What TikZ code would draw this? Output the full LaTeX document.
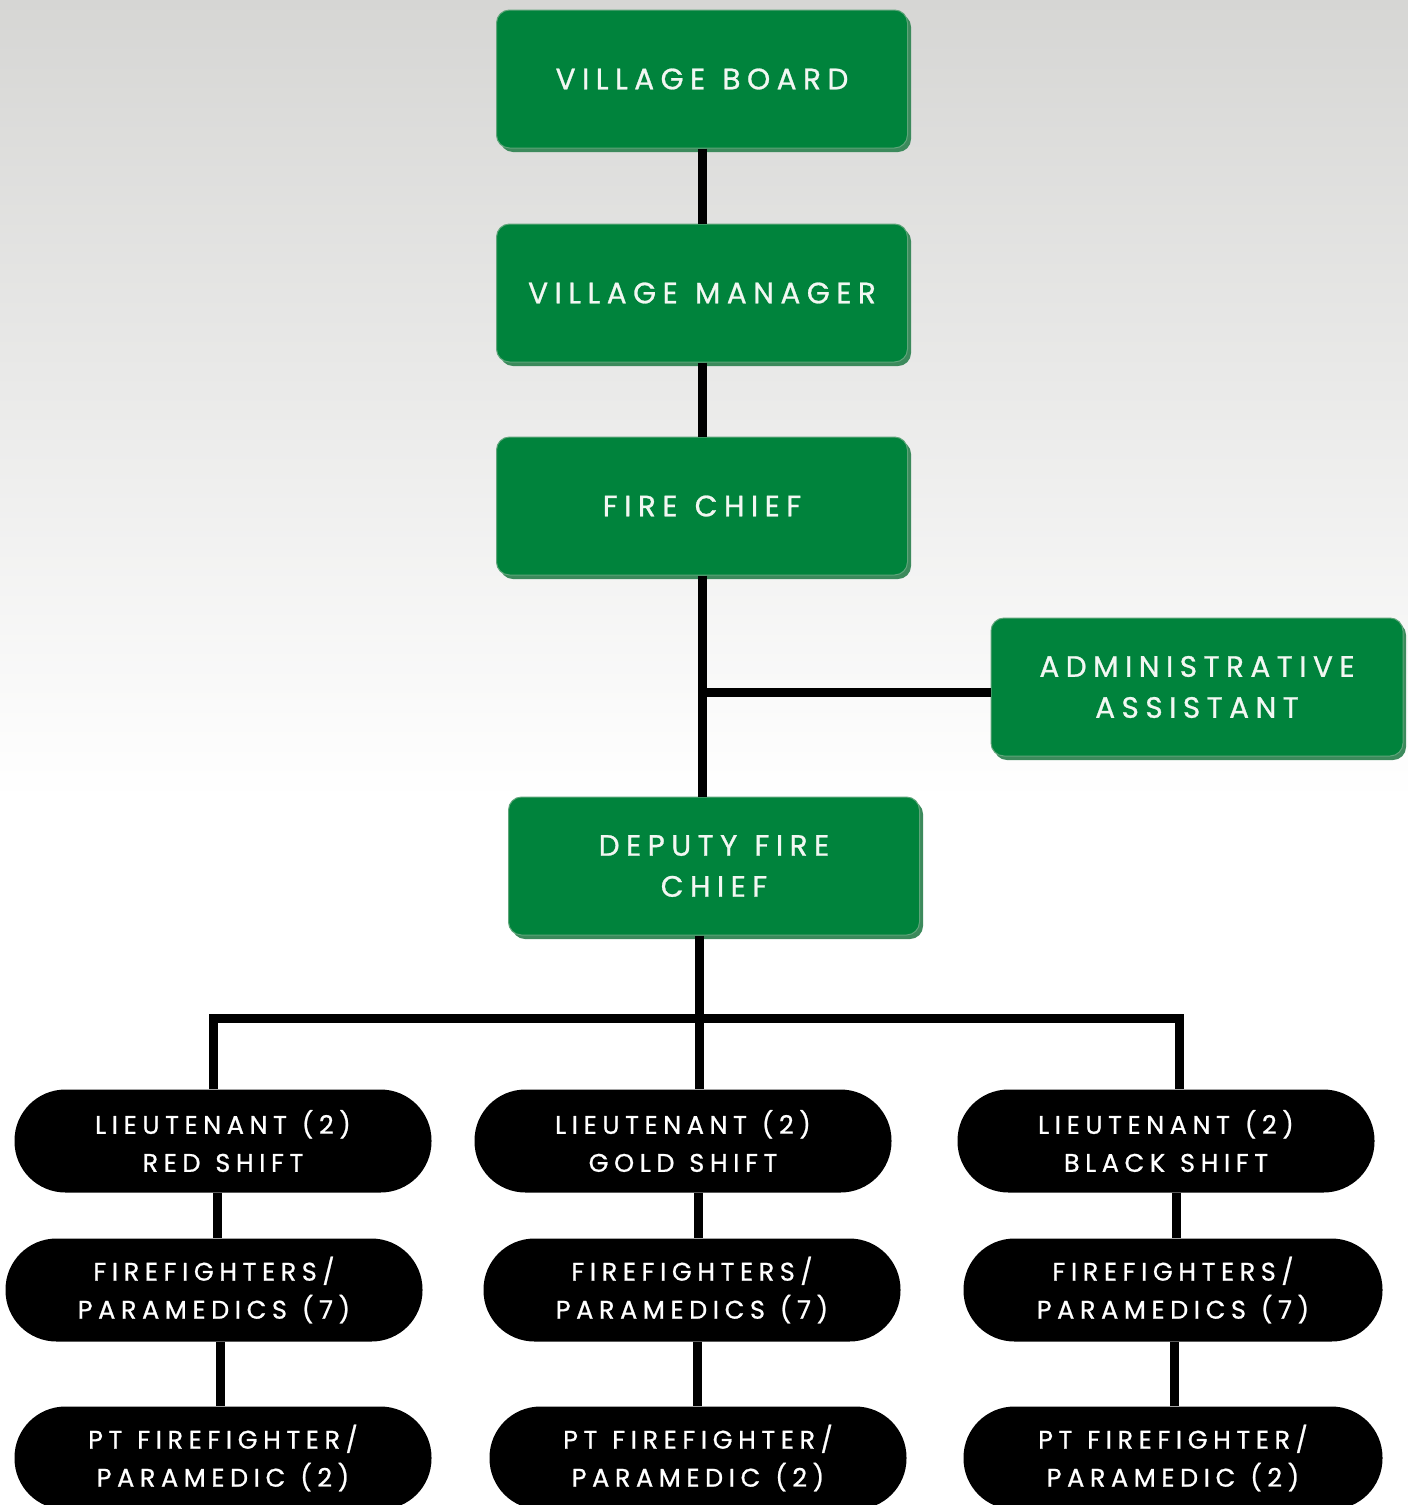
\documentclass[tikz,border=0pt]{standalone}
\usepackage{fontspec}
\setmainfont{Poppins}[LetterSpace=22, WordSpace=1.2, FakeBold=0.9]
\usetikzlibrary{calc}
\definecolor{boxgreen}{HTML}{00833C}
\definecolor{shadegreen}{HTML}{3C8A5C}
\definecolor{edgegreen}{HTML}{5FA57A}
\definecolor{bgtop}{HTML}{D6D6D4}
\definecolor{txtw}{HTML}{F2F7F2}
\begin{document}
\begin{tikzpicture}[x=1pt,y=-1pt,
  gbox/.style={rectangle, rounded corners=13pt, fill=boxgreen, draw=edgegreen, line width=1pt,
    minimum width=411pt, minimum height=138pt, text=txtw, align=center,
    font=\fontsize{29.5}{41}\selectfont, inner sep=0pt},
  pill/.style={rectangle, rounded corners=51pt, fill=black, minimum width=417pt,
    minimum height=103pt, text=white, align=center, font=\fontsize{25.5}{38}\selectfont, inner sep=0pt},
  conn/.style={draw=black, line width=9pt}]
\useasboundingbox (0,0) rectangle (1408,1505);
\clip (0,0) rectangle (1408,1505);
\shade[top color=bgtop, bottom color=white] (0,0) rectangle (1408,800);
\fill[white] (0,799) rectangle (1408,1505);

% shadows of green boxes
\fill[shadegreen, rounded corners=13pt] (500,14) rectangle (911,152);
\fill[shadegreen, rounded corners=13pt] (500,228) rectangle (911,366);
\fill[shadegreen, rounded corners=13pt] (500,441) rectangle (911,579);
\fill[shadegreen, rounded corners=13pt] (994,622) rectangle (1406,760);
\fill[shadegreen, rounded corners=13pt] (512,801) rectangle (923,939);

\node[gbox] (vb) at (702,79) {VILLAGE BOARD};
\node[gbox] (vm) at (702,293) {VILLAGE MANAGER};
\node[gbox] (fc) at (702,506) {FIRE CHIEF};
\node[gbox, minimum width=412pt] (aa) at (1197,687) {ADMINISTRATIVE\\ASSISTANT};
\node[gbox] (dfc) at (714,866) {DEPUTY FIRE\\CHIEF};

\node[pill] (l1) at (223,1141) {LIEUTENANT (2)\\RED SHIFT};
\node[pill] (l2) at (683,1141) {LIEUTENANT (2)\\GOLD SHIFT};
\node[pill] (l3) at (1166,1141) {LIEUTENANT (2)\\BLACK SHIFT};
\node[pill] (f1) at (214,1290) {FIREFIGHTERS/\\PARAMEDICS (7)};
\node[pill] (f2) at (692,1290) {FIREFIGHTERS/\\PARAMEDICS (7)};
\node[pill, minimum width=419pt] (f3) at (1173,1290) {FIREFIGHTERS/\\PARAMEDICS (7)};
\node[pill] (p1) at (223,1458) {PT FIREFIGHTER/\\PARAMEDIC (2)};
\node[pill] (p2) at (698,1458) {PT FIREFIGHTER/\\PARAMEDIC (2)};
\node[pill, minimum width=419pt] (p3) at (1173,1458) {PT FIREFIGHTER/\\PARAMEDIC (2)};

\coordinate (busL) at (213,1018);
\coordinate (busM) at (699,1018);
\coordinate (busR) at (1179,1018);

\draw[conn] (vb.south) -- (vm.north);
\draw[conn] (vm.south) -- (fc.north);
\draw[conn] (fc.south) -- (fc.south |- dfc.north);
\draw[conn] (fc.south |- 0,692) -- (aa.west |- 0,692);
\draw[conn] (busM |- dfc.south) -- (busM);
\draw[conn, line cap=rect] (busL) -- (busR);
\draw[conn] (busL) -- (busL |- l1.north);
\draw[conn] (busM) -- (busM |- l2.north);
\draw[conn] (busR) -- (busR |- l3.north);
\draw[conn] (l1.south -| 217,0) -- (f1.north -| 217,0);
\draw[conn] (l2.south -| 698,0) -- (f2.north -| 698,0);
\draw[conn] (l3.south -| 1176,0) -- (f3.north -| 1176,0);
\draw[conn] (f1.south -| 220,0) -- (p1.north -| 220,0);
\draw[conn] (f2.south -| 697,0) -- (p2.north -| 697,0);
\draw[conn] (f3.south -| 1174,0) -- (p3.north -| 1174,0);
\end{tikzpicture}
\end{document}
